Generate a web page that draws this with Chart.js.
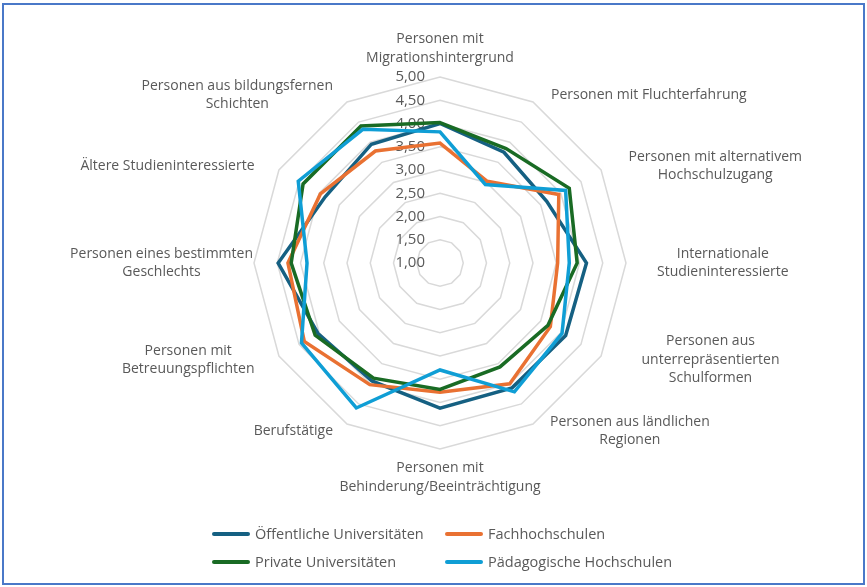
<!DOCTYPE html>
<html>
<head>
<meta charset="utf-8">
<script src="https://cdn.jsdelivr.net/npm/chart.js@4"></script>
<style>
  html, body { margin: 0; padding: 0; background: #fff; }
  #wrap { position: relative; width: 867px; height: 587px; overflow: hidden; }
  #frame { position: absolute; left: 2px; top: 3px; width: 863px; height: 582px; box-sizing: border-box;
           border: 2px solid #4a78c8; pointer-events: none; }
  #legend { position: absolute; left: 212px; top: 524px; display: grid; grid-template-columns: 233px 240px;
            row-gap: 9px; font: 14.5px "Open Sans", sans-serif; color: #595959; }
  .item { display: flex; align-items: center; height: 19px; white-space: nowrap; }
  .swatch { width: 38px; height: 4px; border-radius: 2px; margin-right: 5px; }
</style>
</head>
<body>
<div id="wrap">
  <canvas id="radarChart" width="867" height="587"></canvas>
  <div id="frame"></div>
  <div id="legend"></div>
</div>
<script>
// === DATA ===
const categories = [
    ['Personen mit', 'Migrationshintergrund'],
    ['Personen mit Fluchterfahrung'],
    ['Personen mit alternativem', 'Hochschulzugang'],
    ['Internationale', 'Studieninteressierte'],
    ['Personen aus', 'unterrepräsentierten', 'Schulformen'],
    ['Personen aus ländlichen', 'Regionen'],
    ['Personen mit', 'Behinderung/Beeinträchtigung'],
    ['Berufstätige'],
    ['Personen mit', 'Betreuungspflichten'],
    ['Personen eines bestimmten', 'Geschlechts'],
    ['Ältere Studieninteressierte'],
    ['Personen aus bildungsfernen', 'Schichten']
];
const seriesNames = ['Öffentliche Universitäten', 'Fachhochschulen', 'Private Universitäten', 'Pädagogische Hochschulen'];
const oeffentlicheUni = [4.00, 3.75, 3.65, 4.15, 4.12, 4.10, 4.12, 3.93, 4.03, 4.48, 3.85, 3.95];
const fachhochschulen = [3.58, 3.03, 3.95, 3.53, 3.74, 4.00, 3.78, 4.02, 4.37, 4.27, 3.97, 3.78];
const privateUni      = [4.02, 3.84, 4.21, 3.95, 3.68, 3.58, 3.72, 3.86, 4.10, 4.20, 4.40, 4.40];
const paedagogischeHS = [3.82, 2.95, 4.12, 3.78, 4.03, 4.20, 3.30, 4.60, 4.44, 3.86, 4.52, 4.32];
const tickLabels = ['1,00', '1,50', '2,00', '2,50', '3,00', '3,50', '4,00', '4,50', '5,00'];

const COLORS = { darkBlue: '#156082', orange: '#E97132', green: '#196B24', lightBlue: '#0F9ED5' };
const seriesColors = [COLORS.darkBlue, COLORS.orange, COLORS.green, COLORS.lightBlue];
const seriesData = [oeffentlicheUni, fachhochschulen, privateUni, paedagogischeHS];
const TEXT = '#595959';
const FONT = '"Open Sans", sans-serif';
// how far the near edge of each category label sits from its anchor point (px)
const labelShift = [0, 12, 17, 19, 30, 11, 0, -8, -14, 11, -14, -8];

// tick labels sit left of the vertical axis, under the lines
const tickLabelPlugin = {
    id: 'tickLabels',
    beforeDatasetsDraw(chart) {
        const s = chart.scales.r;
        const ctx = chart.ctx;
        ctx.save();
        ctx.font = '15px ' + FONT;
        ctx.fillStyle = TEXT;
        ctx.textAlign = 'right';
        ctx.textBaseline = 'middle';
        s.ticks.forEach((t, i) => {
            const y = s.yCenter - s.getDistanceFromCenterForValue(t.value);
            ctx.fillText(tickLabels[i], s.xCenter - 15, y);
        });
        ctx.restore();
    }
};

// centred multi-line category labels around the outer ring
const pointLabelPlugin = {
    id: 'catLabels',
    afterDraw(chart) {
        const s = chart.scales.r;
        const ctx = chart.ctx;
        const lh = 18.5;
        ctx.save();
        ctx.font = '14px ' + FONT;
        ctx.fillStyle = TEXT;
        ctx.textAlign = 'center';
        ctx.textBaseline = 'middle';
        categories.forEach((lines, i) => {
            const p = s.getPointPosition(i, s.drawingArea + 12);
            const a = i * Math.PI * 2 / categories.length;
            const w = Math.max(...lines.map(l => ctx.measureText(l).width));
            const h = lines.length * lh;
            const sx = Math.sin(a), cy = -Math.cos(a);
            let cx = p.x, cyc = p.y - 4 * cy;
            if (sx > 0.01) cx = p.x + labelShift[i] + w / 2;
            else if (sx < -0.01) cx = p.x + labelShift[i] - w / 2;
            else cyc = p.y + cy * (h / 2 - 2);
            lines.forEach((l, k) => ctx.fillText(l, cx, cyc - h / 2 + lh * (k + 0.5)));
        });
        ctx.restore();
    }
};

const ctx = document.getElementById('radarChart').getContext('2d');
new Chart(ctx, {
    type: 'radar',
    data: {
        labels: categories,
        datasets: seriesNames.map((name, i) => ({
            label: name,
            data: seriesData[i],
            borderColor: seriesColors[i],
            backgroundColor: 'transparent',
            borderWidth: 3.5,
            pointRadius: 0,
            fill: false,
            order: 4 - i
        }))
    },
    options: {
        responsive: false, animation: false,
        layout: { padding: { left: 254, right: 241, top: 77, bottom: 138 } },
        plugins: { legend: { display: false }, tooltip: { enabled: false } },
        scales: {
            r: {
                min: 1, max: 5,
                ticks: { stepSize: 0.5, display: false },
                grid: { color: '#d9d9d9', lineWidth: 1.5 },
                angleLines: { display: false },
                pointLabels: { display: false }
            }
        }
    },
    plugins: [tickLabelPlugin, pointLabelPlugin]
});

const legend = document.getElementById('legend');
[0, 1, 2, 3].forEach(i => {
    const el = document.createElement('div');
    el.className = 'item';
    el.innerHTML = `<span class="swatch" style="background:${seriesColors[i]}"></span>${seriesNames[i]}`;
    legend.appendChild(el);
});
</script>
</body>
</html>
